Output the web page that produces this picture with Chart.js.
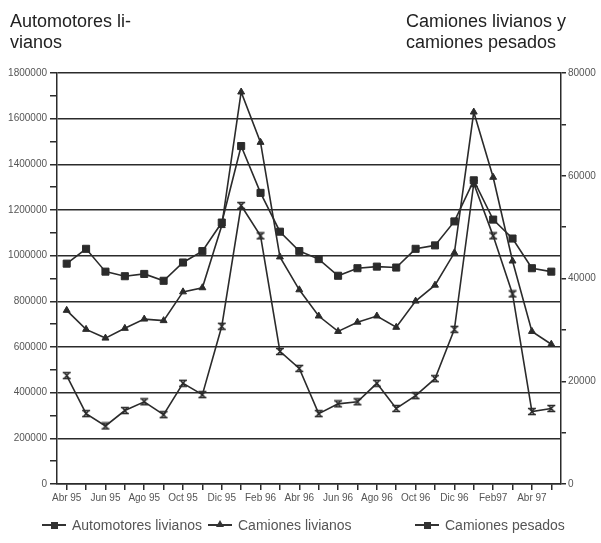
<!DOCTYPE html>
<html><head><meta charset="utf-8">
<script src="https://cdn.jsdelivr.net/npm/chart.js@4/dist/chart.umd.min.js"></script>
<style>
html,body{margin:0;padding:0;background:#fff;}
#wrap{position:relative;width:601px;height:543px;overflow:hidden;background:#fff;}
#c{position:absolute;left:0;top:0;}
.t{position:absolute;font-family:"Liberation Sans",Arial,sans-serif;font-size:18px;line-height:21px;color:#222;white-space:nowrap;}
.li{position:absolute;top:516px;height:18px;font-family:"Liberation Sans",Arial,sans-serif;font-size:14px;line-height:18px;color:#555;white-space:nowrap;}
.mk{position:absolute;top:8px;height:2px;background:#333;}
.sq{position:absolute;width:7px;height:7px;background:#333;top:-2.5px;}
.tri{position:absolute;width:0;height:0;border-left:4px solid transparent;border-right:4px solid transparent;border-bottom:7px solid #333;top:-4px;}
</style></head>
<body><div id="wrap">
<canvas id="c" width="601" height="543"></canvas>
<div class="t" style="left:10px;top:11px">Automotores li-<br>vianos</div>
<div class="t" style="left:406px;top:11px">Camiones livianos y<br>camiones pesados</div>
<div class="li" style="left:42px;width:170px"><div class="mk" style="left:0;width:24px"><div class="sq" style="left:8.5px"></div></div><span style="position:absolute;left:30px">Automotores livianos</span></div>
<div class="li" style="left:208px;width:150px"><div class="mk" style="left:0;width:24px"><div class="tri" style="left:8px"></div></div><span style="position:absolute;left:30px">Camiones livianos</span></div>
<div class="li" style="left:415px;width:160px"><div class="mk" style="left:0;width:24px"><div class="sq" style="left:8.5px"></div></div><span style="position:absolute;left:30px">Camiones pesados</span></div>
</div>
<script>
const months = ["Abr 95","May 95","Jun 95","Jul 95","Ago 95","Sep 95","Oct 95","Nov 95","Dic 95","Ene 96","Feb 96","Mar 96","Abr 96","May 96","Jun 96","Jul 96","Ago 96","Sep 96","Oct 96","Nov 96","Dic 96","Ene 97","Feb97","Mar 97","Abr 97","May 97"];
const automotoresLivianos = [965000,1030000,930000,910000,920000,890000,970000,1020000,1145000,1480000,1275000,1105000,1020000,985000,912000,945000,952000,948000,1030000,1045000,1150000,1330000,1158000,1075000,945000,930000];
const camionesLivianos = [33800,30100,28400,30300,32100,31800,37400,38200,50300,76300,66500,44200,37800,32700,29700,31500,32700,30500,35600,38700,45000,72400,59700,43400,29700,27200];
const camionesPesados = [21100,13700,11300,14300,16000,13500,19600,17400,30700,54200,48300,25800,22500,13700,15600,16000,19600,14700,17200,20500,30100,58500,48300,37000,14100,14700];
const leftTicks = {min:0, max:1800000, major:200000, minor:100000};
const rightTicks = {min:0, max:80000, major:20000, minor:10000};

const INK = '#2b2b2b';
function hourglass(){
  const c = document.createElement('canvas'); c.width = 10; c.height = 9;
  const g = c.getContext('2d'); g.strokeStyle = INK; g.lineWidth = 1.6;
  g.beginPath();
  g.moveTo(1,1.5); g.lineTo(9,1.5);
  g.moveTo(1,7.5); g.lineTo(9,7.5);
  g.moveTo(2.5,1.5); g.lineTo(7.5,7.5);
  g.moveTo(7.5,1.5); g.lineTo(2.5,7.5);
  g.stroke();
  return c;
}
const tickFont = {family:'"Liberation Sans", Arial, sans-serif', size:10};
const base = {borderColor:INK, backgroundColor:INK, borderWidth:1.6, tension:0, pointBorderColor:INK, pointBackgroundColor:INK, pointBorderWidth:1};
new Chart(document.getElementById('c'), {
  type:'line',
  data:{labels:months, datasets:[
    Object.assign({label:'Automotores livianos', data:automotoresLivianos, yAxisID:'y', pointStyle:'rect', pointRadius:5}, base),
    Object.assign({label:'Camiones livianos', data:camionesLivianos, yAxisID:'y2', pointStyle:'triangle', pointRadius:4}, base),
    Object.assign({label:'Camiones pesados', data:camionesPesados, yAxisID:'y2', pointStyle:hourglass(), pointRadius:5}, base)
  ]},
  options:{
    responsive:false, animation:false, devicePixelRatio:1,
    layout:{padding:{top:73, bottom:39, left:0, right:0}},
    plugins:{legend:{display:false}, tooltip:{enabled:false}},
    scales:{
      x:{type:'category', offset:true,
        grid:{drawOnChartArea:false, tickLength:6, color:INK, lineWidth:1.5},
        border:{color:INK, width:1.5},
        ticks:{autoSkip:false, maxRotation:0, minRotation:0, padding:2, font:tickFont, color:'#555',
          callback:(v,i)=> i%2===0 ? months[i] : ''},
        afterFit:s=>{s.height=20;}},
      y:{position:'left', min:leftTicks.min, max:leftTicks.max,
        ticks:{stepSize:leftTicks.minor, autoSkip:false, padding:3, font:tickFont, color:'#555',
          callback:v=> v%leftTicks.major===0 ? String(v) : ''},
        grid:{color:ctx=> (ctx.tick && ctx.tick.value%leftTicks.major===0) ? INK : 'rgba(0,0,0,0)', tickColor:INK, lineWidth:1.5, tickLength:7},
        border:{color:INK, width:1.5},
        afterFit:s=>{s.width=57;}},
      y2:{position:'right', min:rightTicks.min, max:rightTicks.max,
        ticks:{stepSize:rightTicks.minor, autoSkip:false, padding:2, font:tickFont, color:'#555',
          callback:v=> v%rightTicks.major===0 ? String(v) : ''},
        grid:{drawOnChartArea:false, tickColor:INK, lineWidth:1.5, tickLength:5},
        border:{color:INK, width:1.5},
        afterFit:s=>{s.width=40;}}
    }
  }
});
</script>
</body></html>
